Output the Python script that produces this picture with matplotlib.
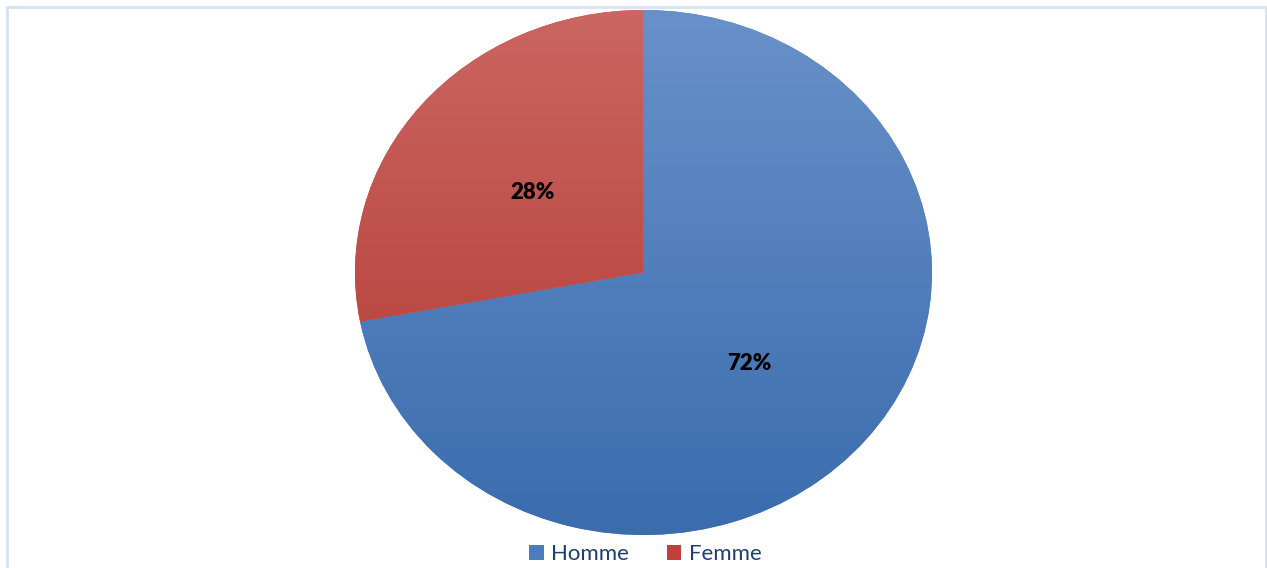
import numpy as np
import matplotlib.pyplot as plt
from matplotlib.patches import Patch, Rectangle
from matplotlib.colors import LinearSegmentedColormap

labels = ['Homme', 'Femme']
values = [72, 28]
top_colors = ['#6991C9', '#CB6662']
bottom_colors = ['#3A6CAE', '#B1352F']
legend_colors = ['#4A7DC0', '#C0403C']

plt.rcParams['font.family'] = ['Lato', 'DejaVu Sans']

fig = plt.figure(figsize=(12.67, 5.68), dpi=100)
W, H = 1267, 568

# light blue frame
fig.patches.append(Rectangle((7 / W, -0.05), (1266 - 7) / W, (568 - 7) / H + 0.05,
                             transform=fig.transFigure, fill=False,
                             edgecolor='#D6E2F3', linewidth=2))

# pie axes sized in pixels (the pie is slightly elliptical)
left, right, top, bottom = 355, 932, 10, 535
ax = fig.add_axes([left / W, 1 - bottom / H, (right - left) / W, (bottom - top) / H])
wedges, _ = ax.pie(values, startangle=90, counterclock=False, radius=1,
                   colors=legend_colors, wedgeprops=dict(linewidth=0))
ax.set_aspect('auto')
ax.axis('off')

# vertical gradient fill clipped to each wedge
grad = np.linspace(0, 1, 256).reshape(-1, 1)
for w, c0, c1 in zip(wedges, top_colors, bottom_colors):
    cmap = LinearSegmentedColormap.from_list('g', [c1, c0])
    im = ax.imshow(grad, extent=(-1, 1, -1, 1), origin='lower', cmap=cmap,
                   aspect='auto', zorder=w.get_zorder() + 0.1)
    im.set_clip_path(w)
ax.set_xlim(-1, 1)
ax.set_ylim(-1, 1)

# percentage labels
ax.text(0.366, -0.345, f'{values[0]}%', ha='center', va='center',
        fontsize=16, fontweight='heavy', color='black', zorder=10)
ax.text(-0.386, 0.303, f'{values[1]}%', ha='center', va='center',
        fontsize=16, fontweight='heavy', color='black', zorder=10)

handles = [Patch(facecolor=c, edgecolor='none') for c in legend_colors]
fig.legend(handles, labels, loc='center', bbox_to_anchor=(645.5 / W, 1 - 554 / H),
           ncol=2, frameon=False, fontsize=16, handlelength=0.65, handleheight=0.65,
           handletextpad=0.35, columnspacing=1.7, labelcolor='#1F3F6E')

fig.savefig('out.png', dpi=100)
